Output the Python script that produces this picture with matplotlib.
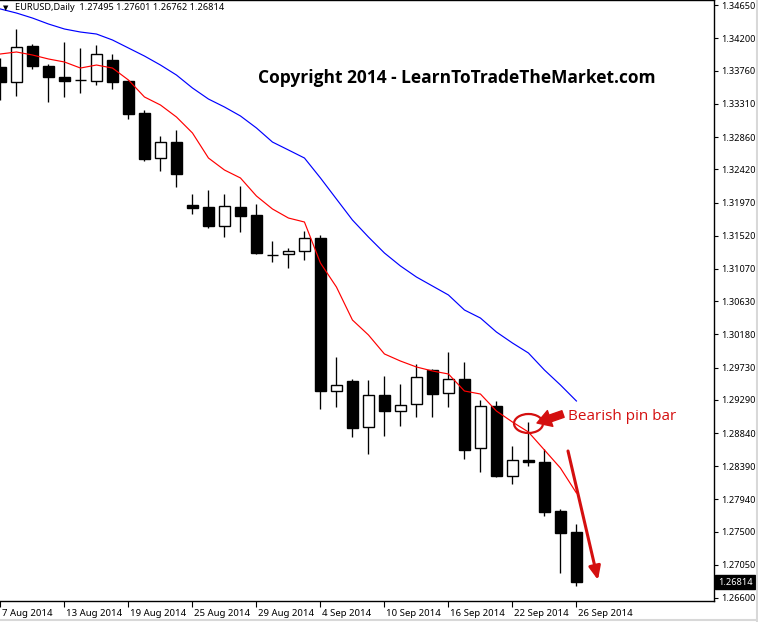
import matplotlib
matplotlib.use('Agg')
import matplotlib.pyplot as plt
import matplotlib.transforms as mtransforms
from matplotlib.patches import Ellipse
import numpy as np

# ---------------- data ----------------
opens = [1.33811, 1.33607, 1.34096, 1.33825, 1.33675, 1.33634, 1.33621, 1.33906,
         1.33621, 1.33186, 1.32575, 1.32792, 1.31937, 1.31910, 1.31652, 1.31910,
         1.31801, 1.31258, 1.31272, 1.31312, 1.31489, 1.29411, 1.29547, 1.28922,
         1.29357, 1.29139, 1.29235, 1.29696, 1.29384, 1.29574, 1.28637, 1.29207,
         1.28257, 1.28474, 1.28447, 1.27781, 1.27495]
highs = [1.33933, 1.34327, 1.34123, 1.33852, 1.34150, 1.34069, 1.34110, 1.33988,
         1.33634, 1.33227, 1.32874, 1.32955, 1.32086, 1.32141, 1.32086, 1.32195,
         1.31951, 1.31448, 1.31353, 1.31584, 1.31530, 1.29873, 1.29574, 1.29560,
         1.29615, 1.29506, 1.29778, 1.29710, 1.29941, 1.29805, 1.29289, 1.29275,
         1.28664, 1.28990, 1.28623, 1.27809, 1.27601]
lows = [1.33363, 1.33417, 1.33784, 1.33336, 1.33404, 1.33458, 1.33567, 1.33512,
        1.33105, 1.32534, 1.32399, 1.32181, 1.31815, 1.31625, 1.31502, 1.31570,
        1.31272, 1.31163, 1.31081, 1.31190, 1.29167, 1.29194, 1.28786, 1.28556,
        1.28800, 1.28936, 1.29058, 1.29058, 1.29194, 1.28488, 1.28311, 1.28243,
        1.28148, 1.28393, 1.27714, 1.26940, 1.26762]
closes = [1.33607, 1.34083, 1.33825, 1.33675, 1.33621, 1.33630, 1.33988, 1.33607,
          1.33173, 1.32562, 1.32792, 1.32358, 1.31896, 1.31652, 1.31923, 1.31788,
          1.31285, 1.31254, 1.31312, 1.31489, 1.29411, 1.29493, 1.28909, 1.29357,
          1.29139, 1.29221, 1.29601, 1.29370, 1.29574, 1.28610, 1.29207, 1.28257,
          1.28474, 1.28447, 1.27768, 1.27480, 1.26814]

ma_fast = [1.33988, 1.34015, 1.33974, 1.33920, 1.33879, 1.33797, 1.33838, 1.33797,
           1.33634, 1.33404, 1.33295, 1.33132, 1.32915, 1.32575, 1.32412, 1.32304,
           1.32059, 1.31883, 1.31760, 1.31706, 1.31149, 1.30823, 1.30375, 1.30172,
           1.29914, 1.29818, 1.29737, 1.29683, 1.29642, 1.29411, 1.29370, 1.29139,
           1.28990, 1.28854, 1.28610, 1.28365, 1.28026]
ma_slow = [1.34599, 1.34544, 1.34476, 1.34395, 1.34327, 1.34286, 1.34259, 1.34178,
           1.34069, 1.33960, 1.33838, 1.33702, 1.33526, 1.33376, 1.33268, 1.33146,
           1.32983, 1.32792, 1.32684, 1.32575, 1.32304, 1.32018, 1.31733, 1.31502,
           1.31285, 1.31109, 1.30959, 1.30837, 1.30715, 1.30511, 1.30402, 1.30212,
           1.30063, 1.29927, 1.29696, 1.29493, 1.29275]

date_labels = ['7 Aug 2014', '13 Aug 2014', '19 Aug 2014', '25 Aug 2014',
               '29 Aug 2014', '4 Sep 2014', '10 Sep 2014', '16 Sep 2014',
               '22 Sep 2014', '26 Sep 2014']
price_ticks = [1.34650, 1.34200, 1.33760, 1.33310, 1.32860, 1.32420, 1.31970,
               1.31520, 1.31070, 1.30630, 1.30180, 1.29730, 1.29290, 1.28840,
               1.28390, 1.27940, 1.27500, 1.27050, 1.26600]
header = 'EURUSD,Daily  1.27495 1.27601 1.26762 1.26814'
last_price = closes[-1]

# ---------------- figure ----------------
W, H = 758, 622
fig = plt.figure(figsize=(W / 100, H / 100), dpi=100)
fig.patch.set_facecolor('white')
ax = fig.add_axes([0, 21 / H, 714 / W, 601 / H])
ax.set_facecolor('white')

n = len(opens)
x = np.arange(n)
o = np.array(opens); c = np.array(closes)
hi = np.array(highs); lo = np.array(lows)

ax.vlines(x, lo, hi, color='black', linewidth=0.95, zorder=2)
bull = c >= o
bottoms = np.minimum(o, c)
heights = np.maximum(np.abs(c - o), 0.00002)
ax.bar(x, heights, bottom=bottoms, width=0.64,
       color=np.where(bull, 'white', 'black'), edgecolor='black',
       linewidth=1.0, zorder=3)

ax.plot(x, ma_fast, color='#ff0000', linewidth=0.85, zorder=4)
ax.plot(x, ma_slow, color='#0000ff', linewidth=0.85, zorder=4)

ax.set_xlim(-0.03, 44.6)
ax.set_ylim(1.26559, 1.34721)

ax.spines['left'].set_visible(False)
for s in ['top', 'right', 'bottom']:
    ax.spines[s].set_color('black')
    ax.spines[s].set_linewidth(1.0)

lab_font = 'Noto Sans'
ax.yaxis.tick_right()
ax.set_yticks(price_ticks)
ax.set_yticklabels(['%.5f' % v for v in price_ticks], family=lab_font)
ax.tick_params(axis='y', direction='out', length=3, width=0.8, pad=2.5,
               labelsize=6.6, colors='black')

ax.set_xticks(np.arange(0, n, 4))
ax.set_xticklabels(date_labels, family=lab_font)
ax.tick_params(axis='x', direction='out', length=4, width=0.8, pad=2,
               labelsize=6.9, colors='black')
off = mtransforms.ScaledTranslation(2 / 100, 0, fig.dpi_scale_trans)
for lab in ax.get_xticklabels():
    lab.set_ha('left')
    lab.set_transform(lab.get_transform() + off)

# last price box
trans = mtransforms.blended_transform_factory(ax.transAxes, ax.transData)
ax.text(1.0 + 4 / 714, last_price, '%.5f' % last_price, transform=trans,
        ha='left', va='center', fontsize=6.6, color='white', zorder=10,
        family=lab_font,
        bbox=dict(boxstyle='square,pad=0.3', facecolor='black', edgecolor='black'))

def fx(px):
    return px / W

def fy(py):
    return 1 - py / H

# header
fig.text(fx(3), fy(8), '\u25BC', fontsize=5, ha='left', va='center', color='black')
fig.text(fx(15), fy(8), header, fontsize=6.6, ha='left', va='center',
         color='black', family=lab_font)

# copyright
fig.text(fx(457), fy(78), 'Copyright 2014 - LearnToTradeTheMarket.com',
         fontsize=12.5, fontweight='bold', ha='center', va='center',
         color='black', family='Open Sans')

# pin bar annotation
red = '#d40f0f'
ell = Ellipse((fx(528.5), fy(423.5)), width=29 / W, height=19 / H,
              transform=fig.transFigure, fill=False, edgecolor=red, linewidth=1.6)
fig.patches.append(ell)
ax.annotate('', xy=(fx(537), fy(423)), xytext=(fx(563), fy(414)),
            xycoords='figure fraction', textcoords='figure fraction',
            arrowprops=dict(arrowstyle='simple,head_width=1.2,head_length=1.0,tail_width=0.5',
                            color=red, shrinkA=0, shrinkB=0))
fig.text(fx(568), fy(416), 'Bearish pin bar', fontsize=11, ha='left', va='center',
         color=red, family='Open Sans')

# big down arrow
ax.annotate('', xy=(fx(598), fy(580)), xytext=(fx(568), fy(451)),
            xycoords='figure fraction', textcoords='figure fraction',
            arrowprops=dict(arrowstyle='-|>,head_width=0.35,head_length=0.8',
                            color=red, linewidth=2.2, shrinkA=0, shrinkB=0))

# outer frame lines (light grey)
fig.add_artist(plt.Line2D([0, 1], [fy(620), fy(620)], transform=fig.transFigure,
                          color='#d8d8d8', linewidth=1.5))
fig.add_artist(plt.Line2D([fx(757), fx(757)], [0, 1], transform=fig.transFigure,
                          color='#d8d8d8', linewidth=1.5))

fig.savefig('out.png', dpi=100, facecolor='white')
